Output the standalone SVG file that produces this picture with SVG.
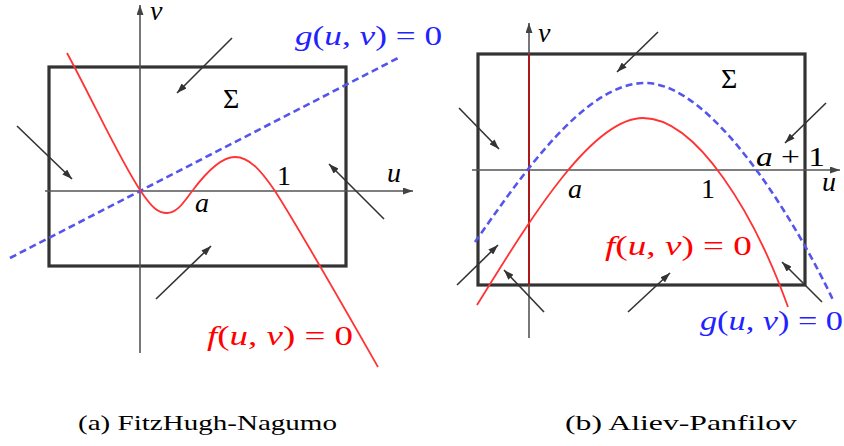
<svg xmlns="http://www.w3.org/2000/svg" width="844" height="446" viewBox="0 0 844 446">
<defs>
<style>
.box{fill:none;stroke:#333;stroke-width:3.2}
.axis{fill:none;stroke:#555;stroke-width:1.6}
.arr{fill:none;stroke:#333;stroke-width:1.6}
.fc{fill:none;stroke:#f33;stroke-width:1.8}
.gc{fill:none;stroke:#5555ee;stroke-width:2.6;stroke-dasharray:7 4}
.lbl{font-family:"Liberation Serif","DejaVu Serif",serif;font-size:28px;fill:#000}
.it{font-style:italic}
.red{fill:#f00}
.blue{fill:#22f}
.cap{font-family:"Liberation Serif","DejaVu Serif",serif;font-size:22px;fill:#000}
</style>
<marker id="ah" viewBox="0 0 10 7" refX="10" refY="3.5" markerWidth="10" markerHeight="7" markerUnits="userSpaceOnUse" orient="auto">
<path d="M0,0 L10,3.5 L0,7 z" fill="#333"/>
</marker>
<marker id="axh" viewBox="0 0 10 7" refX="10" refY="3.5" markerWidth="11" markerHeight="7" markerUnits="userSpaceOnUse" orient="auto">
<path d="M0,0 L10,3.5 L0,7 z" fill="#444"/>
</marker>
</defs>

<!-- Panel (a) -->
<g id="panel-a">
<g id="a-box"><rect class="box" x="49" y="67" width="297" height="199"/></g>
<g id="a-axes">
<line class="axis" x1="140" y1="353" x2="140" y2="5" marker-end="url(#axh)"/>
<line class="axis" x1="45" y1="191" x2="413" y2="191" marker-end="url(#axh)"/>
</g>
<g id="a-connectors">
<line class="arr" x1="232" y1="38" x2="177" y2="93" marker-end="url(#ah)"/>
<line class="arr" x1="17" y1="126" x2="72" y2="179" marker-end="url(#ah)"/>
<line class="arr" x1="384" y1="219" x2="329" y2="164" marker-end="url(#ah)"/>
<line class="arr" x1="156" y1="299" x2="211" y2="246" marker-end="url(#ah)"/>
</g>
<g id="a-g-nullcline"><line class="gc" x1="10" y1="258" x2="400" y2="57"/></g>
<g id="a-f-nullcline"><path class="fc" d="M67,53 C95,105 120,160 140,190 C152,208 158,213 167,213 C178,213 185,200 193,190 C205,174 220,157 235,157 C250,157 262,172 275,191 C300,230 350,318 378,367"/></g>
<g id="a-labels">
<text class="lbl it" x="150" y="20">v</text>
<text class="lbl it" x="387" y="182">u</text>
<text class="lbl" x="277" y="185">1</text>
<text class="lbl it" x="195" y="212">a</text>
<text class="lbl" x="223" y="108" font-size="30">Σ</text>
<text class="lbl blue" x="295" y="45" textLength="147" lengthAdjust="spacingAndGlyphs"><tspan class="it">g</tspan>(<tspan class="it">u</tspan>, <tspan class="it">v</tspan>) = 0</text>
<text class="lbl red" x="207" y="345" textLength="146" lengthAdjust="spacingAndGlyphs"><tspan class="it">f</tspan>(<tspan class="it">u</tspan>, <tspan class="it">v</tspan>) = 0</text>
</g>
<text class="cap" x="78" y="430" textLength="259" lengthAdjust="spacingAndGlyphs">(a) FitzHugh-Nagumo</text>
</g>

<!-- Panel (b) -->
<g id="panel-b">
<g id="b-box"><rect class="box" x="478" y="54" width="327" height="231"/></g>
<g id="b-axes">
<line class="axis" x1="529" y1="338" x2="529" y2="23" marker-end="url(#axh)"/>
<line x1="529" y1="54" x2="529" y2="285" stroke="#b01010" stroke-width="1.8"/>
<line class="axis" x1="472" y1="170" x2="840" y2="170" marker-end="url(#axh)"/>
</g>
<g id="b-connectors">
<line class="arr" x1="658" y1="32" x2="617" y2="72" marker-end="url(#ah)"/>
<line class="arr" x1="459" y1="108" x2="499" y2="149" marker-end="url(#ah)"/>
<line class="arr" x1="826" y1="103" x2="785" y2="143" marker-end="url(#ah)"/>
<line class="arr" x1="457" y1="285" x2="498" y2="245" marker-end="url(#ah)"/>
<line class="arr" x1="544" y1="312" x2="504" y2="270" marker-end="url(#ah)"/>
<line class="arr" x1="628" y1="312" x2="670" y2="273" marker-end="url(#ah)"/>
<line class="arr" x1="822" y1="302" x2="782" y2="262" marker-end="url(#ah)"/>
</g>
<g id="b-g-nullcline"><path class="gc" d="M475,242 C522,175 585,83 645,83 C715,83 800,230 833,300"/></g>
<g id="b-f-nullcline"><path class="fc" d="M477,305 C525,228 590,118 643,118 C697,118 755,215 788,307"/></g>
<g id="b-labels">
<text class="lbl it" x="538" y="42">v</text>
<text class="lbl it" x="822" y="191">u</text>
<text class="lbl" x="701" y="198">1</text>
<text class="lbl it" x="568" y="198">a</text>
<text class="lbl" x="721" y="88" font-size="30">Σ</text>
<text class="lbl" x="756" y="166" textLength="69" lengthAdjust="spacingAndGlyphs"><tspan class="it">a</tspan> + 1</text>
<text class="lbl red" x="605" y="255" textLength="147" lengthAdjust="spacingAndGlyphs"><tspan class="it">f</tspan>(<tspan class="it">u</tspan>, <tspan class="it">v</tspan>) = 0</text>
<text class="lbl blue" x="700" y="330" textLength="143" lengthAdjust="spacingAndGlyphs"><tspan class="it">g</tspan>(<tspan class="it">u</tspan>, <tspan class="it">v</tspan>) = 0</text>
</g>
<text class="cap" x="565" y="430" textLength="232" lengthAdjust="spacingAndGlyphs">(b) Aliev-Panfilov</text>
</g>
</svg>
